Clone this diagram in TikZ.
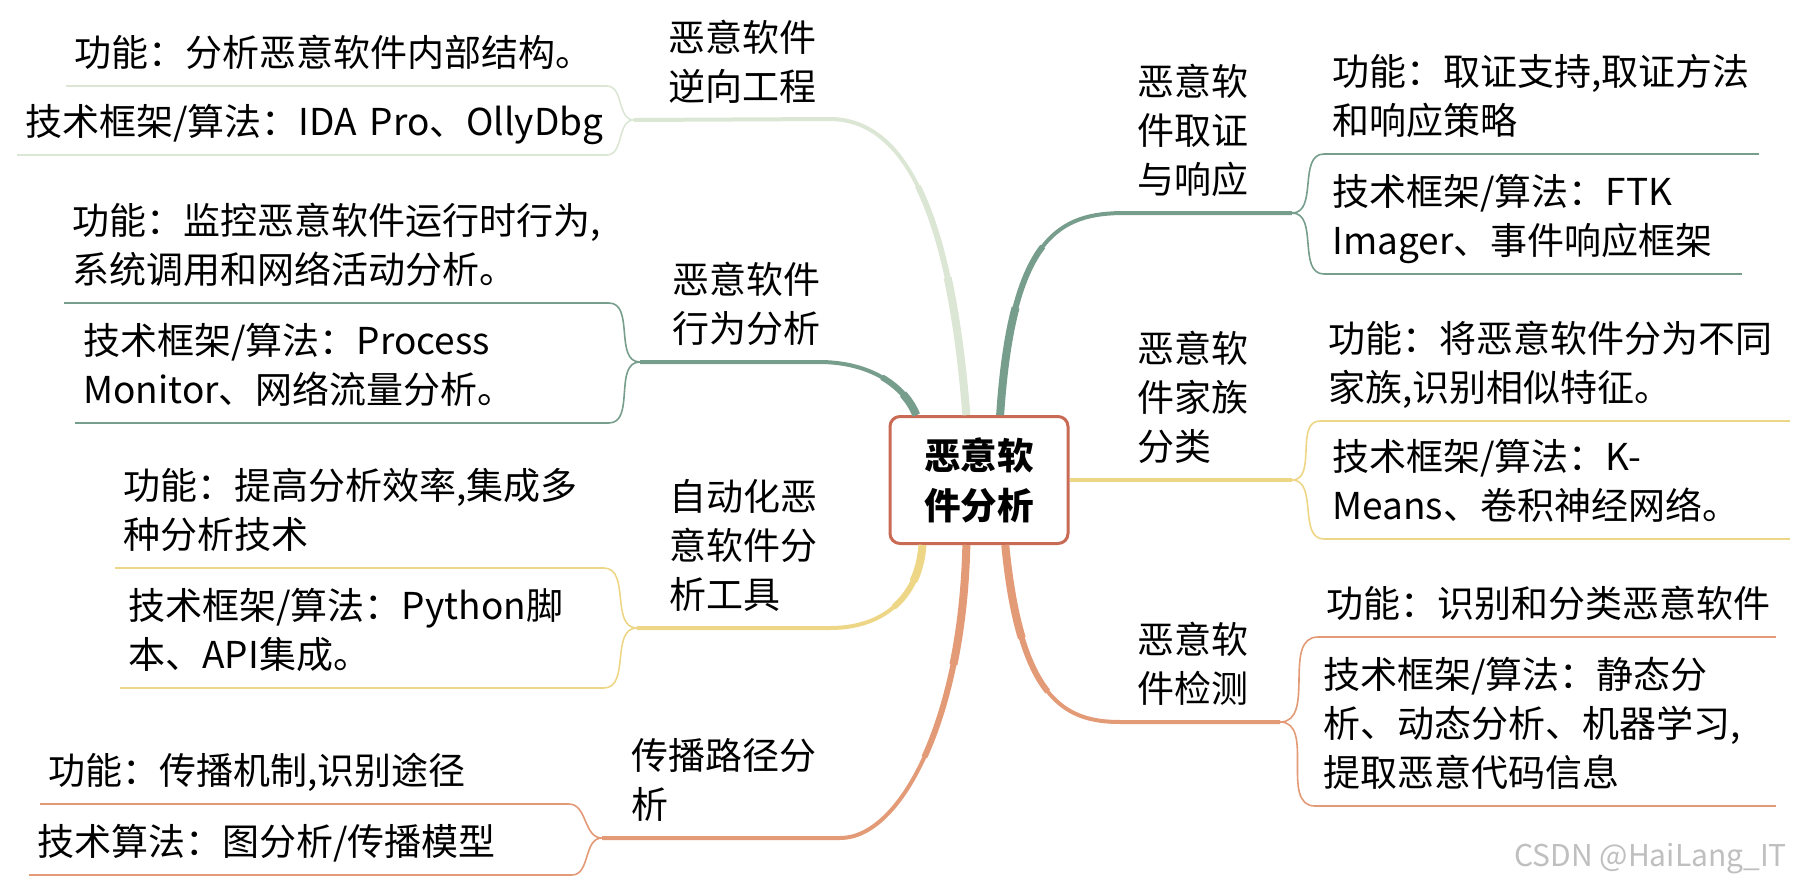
\documentclass[tikz,border=0pt]{standalone}
\usepackage{fontspec}
\setmainfont{Noto Sans CJK SC}
\definecolor{cRoot}{HTML}{C96A55}
\definecolor{cSage}{HTML}{DCE6D4}
\definecolor{cTeal}{HTML}{779E8D}
\definecolor{cSand}{HTML}{EED687}
\definecolor{cCoral}{HTML}{E39A76}

\begin{document}
\begin{tikzpicture}[x=0.5pt, y=-0.5pt,
    txt/.style={font=\fontsize{18.5}{24.5}\selectfont, align=left, anchor=south west,
      inner xsep=4pt, inner ysep=2.4pt, execute at begin node=\strut, execute at end node=\strut},
    trunk/.style={line width=2pt},
    trunkmid/.style={line width=3pt},
    trunkbase/.style={line width=4pt},
    twig/.style={line width=0.8pt}]
        \useasboundingbox (0,0) rectangle (1796,889);
        \node[draw=cRoot, line width=1.5pt, rounded corners=5pt, fill=white, minimum width=89pt,
          minimum height=63.5pt, align=center, font=\fontsize{18.3}{25}\selectfont\bfseries] (root) at (979,480) {恶意软\\件分析};
        \coordinate (fRev)  at (634,120);
        \coordinate (fBeh)  at (640,362);
        \coordinate (fAuto) at (637,628);
        \coordinate (fProp) at (602,838);
        \coordinate (fFor)  at (1292,213);
        \coordinate (fFam)  at (1292,480);
        \coordinate (fDet)  at (1280,722);
        \draw[trunk, cSage]  (root.101) .. controls +(-17,-216) and +(70,0) .. ++(-137,-296) -- (fRev);
        \draw[trunkmid, cSage]  (root.101) .. controls +(-8.5,-108) and +(23.4,47) .. ++(-48.6,-229);
        \draw[trunkbase, cSage] (root.101) .. controls +(-4.25,-54) and +(8.1,37.9) .. ++(-18.7,-137.4);
        \draw[trunk, cTeal]  (root.134) .. controls +(-12,-30) and +(50,0) .. ++(-97,-53) -- (fBeh);
        \draw[trunkmid, cTeal]  (root.134) .. controls +(-6,-15) and +(16.5,9.5) .. ++(-34.25,-37.75);
        \draw[trunkbase, cTeal] (root.134) .. controls +(-3,-7.5) and +(5.75,6.38) .. ++(-13.19,-20.94);
        \draw[trunk, cSand]  (root.229) .. controls +(-4,55) and +(50,0) .. ++(-92,83) -- (fAuto);
        \draw[trunkmid, cSand]  (root.229) .. controls +(-2,27.5) and +(16.25,-13.875) .. ++(-28.75,62.125);
        \draw[trunkbase, cSand] (root.229) .. controls +(-1,13.75) and +(4.9,-10.36) .. ++(-9.03,36.17);
        \draw[trunk, cCoral] (root.259) .. controls +(-4,175) and +(60,0) .. ++(-126,293) -- (fProp);
        \draw[trunkmid, cCoral]  (root.259) .. controls +(-2,87.5) and +(23.5,-51.375) .. ++(-42,212.125);
        \draw[trunkbase, cCoral] (root.259) .. controls +(-1,43.75) and +(7.31,-35.67) .. ++(-12.94,119.61);
        \draw[trunk, cTeal]  (root.72) .. controls +(12,-180) and +(-65,0) .. ++(125,-202) -- (fFor);
        \draw[trunkmid, cTeal]  (root.72) .. controls +(6,-90) and +(-21.625,28) .. ++(42.625,-168.5);
        \draw[trunkbase, cTeal] (root.72) .. controls +(3,-45) and +(-7.2,27.375) .. ++(15.45,-107.5);
        \draw[line width=1.6pt, cSand] (root.east) -- (fFam);
        \draw[trunk, cCoral] (root.292) .. controls +(15,155) and +(-55,0) .. ++(115,177) -- (fDet);
        \draw[trunkmid, cCoral]  (root.292) .. controls +(7.5,77.5) and +(-20,-24.875) .. ++(42.5,146.625);
        \draw[trunkbase, cCoral] (root.292) .. controls +(3.75,38.75) and +(-7.19,-23.86) .. ++(16.56,93.05);
        \node[txt] (tRev)  at (660,120) {恶意软件\\逆向工程};
        \node[txt] (tBeh)  at (664,362) {恶意软件\\行为分析};
        \node[txt] (tAuto) at (661,628) {自动化恶\\意软件分\\析工具};
        \node[txt] (tProp) at (623,838) {传播路径分\\析};
        \node[txt] (tFor)  at (1129,213) {恶意软\\件取证\\与响应};
        \node[txt] (tFam)  at (1129,480) {恶意软\\件家族\\分类};
        \node[txt] (tDet)  at (1129,722) {恶意软\\件检测};
        \node[txt, text width=262pt]   (revA)  at (66,86)   {功能：分析恶意软件内部结构。};
        \node[txt, text width=286.5pt] (revB)  at (17,155)  {技术框架/算法：IDA~Pro、OllyDbg};
        \node[txt, text width=264pt]   (behA)  at (64,303)  {功能：监控恶意软件运行时行为,\\系统调用和网络活动分析。};
        \node[txt, text width=258.5pt] (behB)  at (75,423)  {技术框架/算法：Process\\Monitor、网络流量分析。};
        \node[txt, text width=236pt]   (autoA) at (115,568) {功能：提高分析效率,集成多\\种分析技术};
        \node[txt, text width=233.5pt] (autoB) at (120,688) {技术框架/算法：Python脚\\本、API集成。};
        \node[txt, text width=256pt]   (propA) at (40,804)  {功能：传播机制,识别途径};
        \node[txt, text width=263pt]   (propB) at (29,875)  {技术算法：图分析/传播模型};
        \node[txt, text width=209pt]   (forA)  at (1324,154) {功能：取证支持,取证方法\\和响应策略};
        \node[txt, text width=200.5pt] (forB)  at (1324,274) {技术框架/算法：FTK\\Imager、事件响应框架};
        \node[txt, text width=226.5pt] (famA)  at (1320,421) {功能：将恶意软件分为不同\\家族,识别相似特征。};
        \node[txt, text width=224.5pt] (famB)  at (1324,539) {技术框架/算法：K-\\Means、卷积神经网络。};
        \node[txt, text width=220.5pt] (detA)  at (1318,637) {功能：识别和分类恶意软件};
        \node[txt, text width=222pt]   (detB)  at (1315,806) {技术框架/算法：静态分\\析、动态分析、机器学习,\\提取恶意代码信息};
        \draw[twig, cSage]  (fRev) to[out=180,in=0] (revA.south east) -- (revA.south west);
        \draw[twig, cSage]  (fRev) to[out=180,in=0] (revB.south east) -- (revB.south west);
        \draw[twig, cTeal]  (fBeh) to[out=180,in=0] (behA.south east) -- (behA.south west);
        \draw[twig, cTeal]  (fBeh) to[out=180,in=0] (behB.south east) -- (behB.south west);
        \draw[twig, cSand]  (fAuto) to[out=180,in=0] (autoA.south east) -- (autoA.south west);
        \draw[twig, cSand]  (fAuto) to[out=180,in=0] (autoB.south east) -- (autoB.south west);
        \draw[twig, cCoral] (fProp) to[out=180,in=0] (propA.south east) -- (propA.south west);
        \draw[twig, cCoral] (fProp) to[out=180,in=0] (propB.south east) -- (propB.south west);
        \draw[twig, cTeal]  (fFor) to[out=0,in=180] (forA.south west) -- (forA.south east);
        \draw[twig, cTeal]  (fFor) to[out=0,in=180] (forB.south west) -- (forB.south east);
        \draw[twig, cSand]  (fFam) to[out=0,in=180] (famA.south west) -- (famA.south east);
        \draw[twig, cSand]  (fFam) to[out=0,in=180] (famB.south west) -- (famB.south east);
        \draw[twig, cCoral] (fDet) to[out=0,in=180] (detA.south west) -- (detA.south east);
        \draw[twig, cCoral] (fDet) to[out=0,in=180] (detB.south west) -- (detB.south east);
        \node[anchor=east, text=gray!50, font=\fontsize{15}{15}\selectfont] (mark) at (1794,859) {CSDN @HaiLang\_IT};
      \end{tikzpicture}
\end{document}
